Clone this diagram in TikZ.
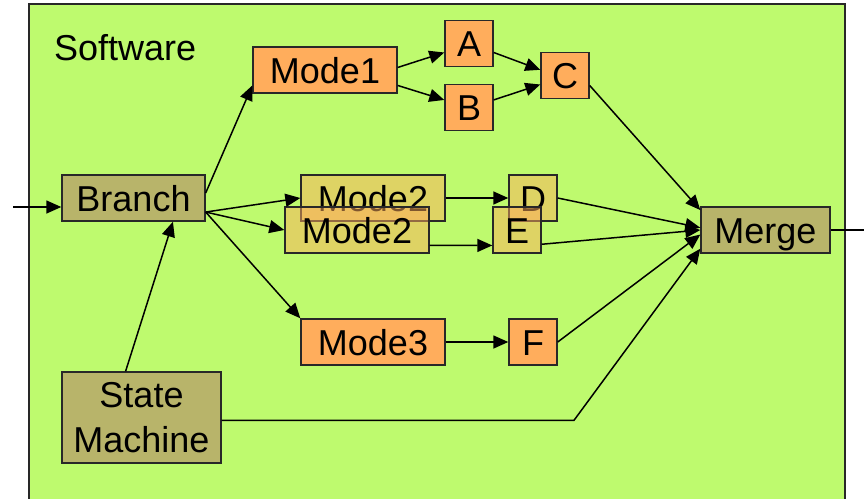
\documentclass[tikz,border=0pt]{standalone}
\usepackage{fontspec}
\setmainfont{Liberation Sans}
\usetikzlibrary{arrows.meta}

\definecolor{swgreen}{RGB}{190,250,110}
\definecolor{modeorange}{RGB}{255,173,92}
\definecolor{ctrlolive}{RGB}{184,180,106}
\definecolor{edgegray}{RGB}{40,40,40}

\begin{document}
\begin{tikzpicture}[x=1pt, y=-1pt, -{Triangle[length=15pt,width=13pt]}, line width=1.5pt,
	box/.style={draw=edgegray, line width=1.4pt, inner sep=0pt, minimum height=46pt, font=\fontsize{36}{45}\selectfont},
	oneline/.style={text height=26pt, text depth=0pt},
	mode/.style={box, oneline, fill=modeorange, minimum width=144pt},
	letter/.style={box, oneline, fill=modeorange, minimum width=48pt},
	faded/.style={fill opacity=0.5, text opacity=1},
	ctrl/.style={box, fill=ctrlolive}]

	\useasboundingbox (0,0) rectangle (864,498);

	% software block
	\draw[-, draw=edgegray, line width=1.4pt, fill=swgreen] (29,4) rectangle (845,512);
	\node[anchor=base west, font=\fontsize{36}{45}\selectfont] (sw) at (50,60) {Software};

	% draw branch, state machine and merge
	\node[ctrl, oneline, minimum width=143pt] (branch) at (133.5,198) {Branch};
	\node[ctrl, minimum width=159pt, minimum height=91pt, align=center] (sm) at (141.5,417.5) {State\\Machine};
	\node[ctrl, oneline, minimum width=129pt] (merge) at (765.5,230) {Merge};

	% draw modes
	\node[mode] (mode1) at (325,70) {Mode1};
	\foreach \n/\t/\x/\y in {a/A/469/43.5, b/B/469/107.5, c/C/565/75.5}
	{
		\node[letter] (\n) at (\x,\y) {\t};
	}
	\node[mode, faded] (mode2a) at (373,198) {Mode2};
	\node[letter, faded] (d) at (533,198) {D};
	\node[mode, faded] (mode2b) at (357,230) {Mode2};
	\node[letter, faded] (e) at (517,230) {E};
	\node[mode] (mode3) at (373,342) {Mode3};
	\node[letter] (f) at (533,342) {F};

	\coordinate (in) at (13,207);
	\coordinate (out) at (880,230);
	\coordinate (bend) at (574,420);

	% draw edges
	\draw (in) -- (in -| branch.west);
	\path (branch.4) edge (mode1.192);
	\foreach \m in {mode2a, mode2b}
	{
		\path (branch.-11) edge (\m.west);
	}
	\path (branch.-11) edge (mode3.north west);
	\path (sm.109) edge (branch.-31);

	\path (mode1.2) edge (a.200);
	\path (mode1.-12) edge (b.163);
	\path (a.-20) edge (c.167);
	\path (b.17) edge (c.200);
	\path (mode2a) edge (d);
	\path (mode2b.-12) edge (e.212);
	\path (mode3) edge (f);

	\path (c.-22) edge (merge.163);
	\path (d.east) edge (merge.178);
	\path (e.-30) edge (merge.west);
	\path (f.east) edge (merge.184);
	\draw (sm.-2) -- (sm.-2 -| bend) -- (merge.196);
	\draw (merge) -- (out);

\end{tikzpicture}
\end{document}
